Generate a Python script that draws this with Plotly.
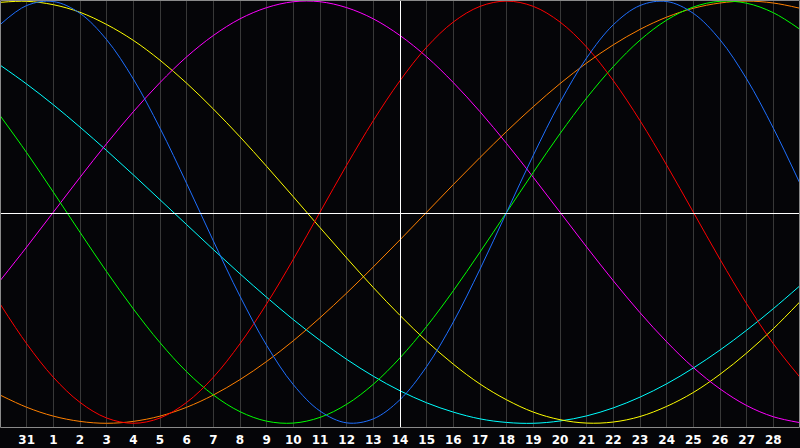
import plotly.graph_objects as go

# Day index 0..30 (index 0 = 30th of previous month)
day_index = list(range(31))
tick_labels = ["31"] + [str(d) for d in range(1, 29)]
tick_pos = list(range(1, 30))

physical_23 = [0.888, 0.979, 0.998, 0.942, 0.817, 0.631, 0.398, 0.136, -0.136, -0.398,
               -0.631, -0.817, -0.942, -0.998, -0.979, -0.888, -0.731, -0.520, -0.270, 0.0,
               0.270, 0.520, 0.731, 0.888, 0.979, 0.998, 0.942, 0.817, 0.631, 0.398, 0.136]
emotional_28 = [-0.434, -0.623, -0.782, -0.901, -0.975, -1.0, -0.975, -0.901, -0.782, -0.623,
                -0.434, -0.223, 0.0, 0.223, 0.434, 0.623, 0.782, 0.901, 0.975, 1.0,
                0.975, 0.901, 0.782, 0.623, 0.434, 0.223, 0.0, -0.223, -0.434, -0.623, -0.782]
intellectual_33 = [0.458, 0.282, 0.095, -0.095, -0.282, -0.458, -0.618, -0.756, -0.866, -0.945,
                   -0.990, -0.999, -0.972, -0.910, -0.815, -0.690, -0.541, -0.372, -0.189, 0.0,
                   0.189, 0.372, 0.541, 0.690, 0.815, 0.910, 0.972, 0.999, 0.990, 0.945, 0.866]
intuitive_38 = [-0.325, -0.165, 0.0, 0.165, 0.325, 0.476, 0.614, 0.736, 0.837, 0.916,
                0.969, 0.997, 0.997, 0.969, 0.916, 0.837, 0.736, 0.614, 0.476, 0.325,
                0.165, 0.0, -0.165, -0.325, -0.476, -0.614, -0.736, -0.837, -0.916, -0.969, -0.997]
aesthetic_43 = [0.994, 0.999, 0.983, 0.947, 0.889, 0.814, 0.720, 0.611, 0.489, 0.357,
                0.217, 0.073, -0.073, -0.217, -0.357, -0.489, -0.611, -0.720, -0.814, -0.889,
                -0.947, -0.983, -0.999, -0.994, -0.968, -0.920, -0.854, -0.768, -0.667, -0.552, -0.424]
awareness_48 = [-0.866, -0.924, -0.966, -0.991, -1.0, -0.991, -0.966, -0.924, -0.866, -0.793,
                -0.707, -0.609, -0.5, -0.383, -0.259, -0.131, 0.0, 0.131, 0.259, 0.383,
                0.5, 0.609, 0.707, 0.793, 0.866, 0.924, 0.966, 0.991, 1.0, 0.991, 0.966]
spiritual_53 = [0.697, 0.607, 0.509, 0.403, 0.292, 0.177, 0.059, -0.059, -0.177, -0.292,
                -0.403, -0.509, -0.607, -0.697, -0.777, -0.846, -0.903, -0.947, -0.979, -0.996,
                -1.0, -0.989, -0.965, -0.927, -0.876, -0.813, -0.738, -0.653, -0.559, -0.457, -0.348]

series = [
    ("Spiritual", spiritual_53, "#00ffff"),
    ("Awareness", awareness_48, "#ff8000"),
    ("Aesthetic", aesthetic_43, "#ffff00"),
    ("Intuitive", intuitive_38, "#ff00ff"),
    ("Intellectual", intellectual_33, "#00ff00"),
    ("Emotional", emotional_28, "#ff0000"),
    ("Physical", physical_23, "#1e6fff"),
]

fig = go.Figure()
for name, vals, col in series:
    fig.add_trace(go.Scatter(x=day_index, y=vals, mode="lines", name=name,
                             line=dict(color=col, width=1, shape="spline"),
                             hoverinfo="skip"))

W, H = 800, 428
fig.update_layout(
    width=800, height=448,
    margin=dict(l=0, r=0, t=0, b=20, pad=0),
    paper_bgcolor="#050508", plot_bgcolor="#050508",
    showlegend=False,
    xaxis=dict(range=[0, 30], tickmode="array", tickvals=tick_pos, ticktext=tick_labels,
               showgrid=True, gridcolor="#383838", gridwidth=1, zeroline=False,
               showline=False, ticks="", ticklabelstandoff=3,
               tickfont=dict(family="DejaVu Sans", size=12, color="white", weight="bold"),
               fixedrange=True),
    yaxis=dict(range=[-1.0223, 1.0052], showgrid=False, zeroline=False, showticklabels=False,
               showline=False, ticks="", fixedrange=True),
    shapes=[
        dict(type="line", xref="paper", yref="paper", x0=400.5 / W, x1=400.5 / W, y0=0, y1=1,
             line=dict(color="white", width=1), layer="above"),
        dict(type="line", xref="paper", yref="paper", x0=0, x1=1,
             y0=(H - 213.5) / H, y1=(H - 213.5) / H,
             line=dict(color="white", width=1), layer="above"),
        dict(type="rect", xref="paper", yref="paper",
             x0=0.5 / W, x1=1 - 0.5 / W, y0=0.5 / H, y1=1 - 0.5 / H,
             line=dict(color="#8a8a8a", width=1), layer="above"),
    ],
)

fig.write_html("out.html", config={"displayModeBar": False},
               post_script="document.body.style.margin='0px';document.body.style.background='#050508';")
